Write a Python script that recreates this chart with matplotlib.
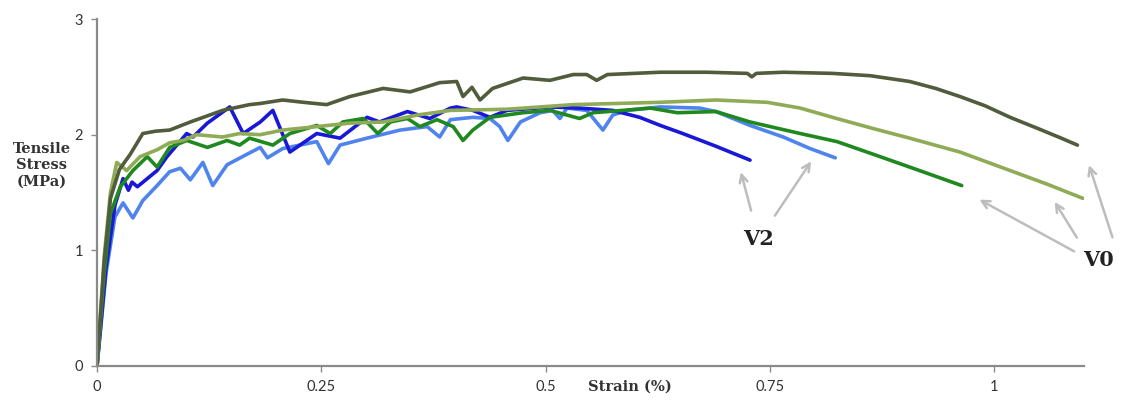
# -*- coding: utf-8 -*-
import numpy as np
import matplotlib
matplotlib.use('Agg')
import matplotlib.pyplot as plt

# strain (%) / tensile stress (MPa)
v0a_x = [0, 0.008, 0.015, 0.025, 0.037, 0.051, 0.065, 0.081, 0.104, 0.14, 0.17, 0.182, 0.207,
         0.23, 0.256, 0.282, 0.319, 0.349, 0.382, 0.401, 0.408, 0.418, 0.427, 0.441, 0.475,
         0.505, 0.531, 0.546, 0.557, 0.569, 0.628, 0.68, 0.725, 0.73, 0.735, 0.765, 0.82,
         0.862, 0.906, 0.935, 0.962, 0.99, 1.018, 1.05, 1.075, 1.093]
v0a_y = [0, 0.9, 1.45, 1.7, 1.83, 2.01, 2.03, 2.04, 2.11, 2.21, 2.26, 2.27, 2.30,
         2.28, 2.26, 2.33, 2.40, 2.37, 2.45, 2.46, 2.33, 2.41, 2.30, 2.40, 2.49,
         2.47, 2.52, 2.52, 2.47, 2.52, 2.54, 2.54, 2.53, 2.50, 2.53, 2.54, 2.53,
         2.51, 2.46, 2.40, 2.33, 2.25, 2.15, 2.05, 1.97, 1.91]

v0b_x = [0, 0.008, 0.015, 0.022, 0.033, 0.048, 0.067, 0.081, 0.096, 0.111, 0.14, 0.159, 0.182,
         0.207, 0.245, 0.282, 0.319, 0.357, 0.394, 0.457, 0.531, 0.628, 0.69, 0.747, 0.784,
         0.82, 0.862, 0.906, 0.962, 1.018, 1.06, 1.099]
v0b_y = [0, 0.95, 1.5, 1.76, 1.69, 1.81, 1.87, 1.93, 1.95, 2.0, 1.98, 2.01, 2.0,
         2.04, 2.07, 2.10, 2.11, 2.17, 2.21, 2.22, 2.26, 2.28, 2.30, 2.28, 2.23,
         2.15, 2.06, 1.97, 1.85, 1.69, 1.57, 1.45]

v0c_x = [0, 0.008, 0.015, 0.026, 0.04, 0.056, 0.067, 0.081, 0.10, 0.123, 0.145, 0.159, 0.17,
         0.196, 0.215, 0.245, 0.26, 0.274, 0.297, 0.313, 0.327, 0.346, 0.36, 0.379, 0.397,
         0.408, 0.419, 0.438, 0.475, 0.505, 0.538, 0.553, 0.586, 0.617, 0.647, 0.69, 0.728,
         0.784, 0.825, 0.862, 0.906, 0.964]
v0c_y = [0, 0.8, 1.32, 1.55, 1.69, 1.81, 1.72, 1.89, 1.95, 1.89, 1.95, 1.91, 1.97,
         1.91, 2.01, 2.08, 2.01, 2.11, 2.14, 2.01, 2.11, 2.14, 2.07, 2.13, 2.07,
         1.95, 2.04, 2.15, 2.19, 2.21, 2.14, 2.19, 2.21, 2.23, 2.19, 2.20, 2.11,
         2.01, 1.94, 1.84, 1.72, 1.56]

v2a_x = [0, 0.01, 0.02, 0.029, 0.035, 0.039, 0.045, 0.067, 0.078, 0.10, 0.107, 0.123, 0.148,
         0.163, 0.182, 0.196, 0.215, 0.245, 0.271, 0.301, 0.315, 0.346, 0.371, 0.394, 0.401,
         0.419, 0.438, 0.457, 0.505, 0.538, 0.575, 0.605, 0.628, 0.653, 0.69, 0.728]
v2a_y = [0, 0.85, 1.39, 1.62, 1.52, 1.59, 1.55, 1.69, 1.81, 2.01, 1.98, 2.10, 2.24,
         2.01, 2.11, 2.21, 1.85, 2.01, 1.97, 2.15, 2.11, 2.20, 2.14, 2.23, 2.24,
         2.21, 2.15, 2.21, 2.24, 2.23, 2.21, 2.15, 2.08, 2.01, 1.90, 1.78]

v2b_x = [0, 0.01, 0.02, 0.029, 0.04, 0.051, 0.067, 0.081, 0.093, 0.104, 0.118, 0.129, 0.145,
         0.167, 0.182, 0.19, 0.207, 0.245, 0.258, 0.271, 0.301, 0.338, 0.368, 0.382, 0.394,
         0.419, 0.438, 0.449, 0.458, 0.472, 0.494, 0.508, 0.516, 0.524, 0.546, 0.564, 0.575,
         0.591, 0.628, 0.672, 0.69, 0.728, 0.765, 0.795, 0.823]
v2b_y = [0, 0.8, 1.29, 1.41, 1.28, 1.43, 1.56, 1.68, 1.71, 1.61, 1.76, 1.56, 1.74,
         1.83, 1.89, 1.80, 1.88, 1.94, 1.75, 1.91, 1.97, 2.04, 2.07, 1.98, 2.13,
         2.15, 2.14, 2.07, 1.95, 2.11, 2.19, 2.21, 2.14, 2.23, 2.21, 2.04, 2.17,
         2.21, 2.24, 2.23, 2.20, 2.08, 1.98, 1.88, 1.80]

series = [
  (v2b_x, v2b_y, '#4f84ee'),
  (v2a_x, v2a_y, '#1818d6'),
  (v0c_x, v0c_y, '#1f891f'),
  (v0b_x, v0b_y, '#8fab55'),
  (v0a_x, v0a_y, '#505c3c'),
]

x_ticks = [0, 0.25, 0.5, 0.75, 1]
x_tick_labels = ['0', '0.25', '0.5', '0.75', '1']
y_ticks = [0, 1, 2, 3]

# callouts: (text, text pos, [(tail, head), ...])
callouts = [
  ('V2', (0.737, 1.10), [((0.730, 1.32), (0.717, 1.70)), ((0.754, 1.28), (0.798, 1.79))]),
  ('V0', (1.117, 0.92), [((1.092, 0.98), (0.981, 1.45)), ((1.094, 1.09), (1.066, 1.44)),
                         ((1.133, 1.09), (1.105, 1.76))]),
]


def drawChart():
  fig = plt.figure(figsize=(11.23, 4.05), dpi=100)
  ax = fig.add_axes([0.0864, 0.0963, 0.8786, 0.8567])

  for x, y, c in series:
    ax.plot(x, y, color=c, lw=2.6, solid_joinstyle='round', solid_capstyle='round')

  ax.set_xlim(0, 1.1)
  ax.set_ylim(0, 3)
  ax.set_xticks(x_ticks)
  ax.set_xticklabels(x_tick_labels)
  ax.set_yticks(y_ticks)
  for s in ['top', 'right']:
    ax.spines[s].set_visible(False)
  for s in ['left', 'bottom']:
    ax.spines[s].set_color('#8a8a8a')
    ax.spines[s].set_linewidth(1.6)
  ax.tick_params(colors='#8a8a8a', length=4, width=1, labelcolor='#333333',
                 labelsize=10.5, pad=6)
  for lab in ax.get_xticklabels() + ax.get_yticklabels():
    lab.set_family('Lato')

  fig.text(0.037, 0.592, 'Tensile\nStress\n(MPa)', ha='center', va='center',
           family='DejaVu Serif', fontweight='bold', fontsize=10.5, color='#333333',
           linespacing=1.2)
  fig.text(0.561, 0.045, 'Strain (%)', ha='center', va='center',
           family='DejaVu Serif', fontweight='bold', fontsize=10.5, color='#333333')

  for txt, pos, arrows in callouts:
    for tail, head in arrows:
      ax.annotate('', xy=head, xytext=tail, annotation_clip=False,
                  arrowprops=dict(arrowstyle='->', color='#bdbdbd', lw=1.8,
                                  mutation_scale=14))
    ax.text(pos[0], pos[1], txt, ha='center', va='center', clip_on=False,
            family='DejaVu Serif', fontweight='bold', fontsize=15, color='#222222')

  fig.savefig('out.png', dpi=100)


if __name__ == '__main__':
  drawChart()
